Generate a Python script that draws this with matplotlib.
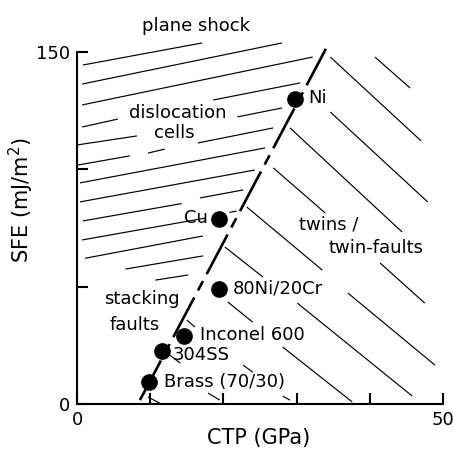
import matplotlib
matplotlib.use("Agg")
import matplotlib.pyplot as plt
from matplotlib.collections import LineCollection

# ---- data ----
materials = ["Ni", "Cu", "80Ni/20Cr", "Inconel 600", "304SS", "Brass (70/30)"]
ctp_gpa = [29.8, 19.4, 19.4, 14.6, 11.6, 9.8]
sfe_mj = [130, 79, 49, 29, 22.5, 9.2]

# dashed boundary between deformation regimes
boundary_ctp = [8.6, 34.0]
boundary_sfe = [1.7, 151.3]

region_names = ["plane shock", "dislocation", "cells", "twins /", "twin-faults",
                "stacking", "faults"]

x_ticks = [0, 10, 20, 30, 40, 50]
x_ticklabels = ["0", "", "", "", "", "50"]
y_ticks = [0, 50, 100, 150]
y_ticklabels = ["0", "", "", "150"]

# ---- decoration: hatch segments (x0, y0, x1, y1) in data units ----
hatch_left = [
    (0.8, 144.4, 17.1, 153.8),
    (0.7, 136.3, 28.0, 153.8),
    (0.7, 127.4, 32.2, 147.8),
    (0.7, 118.0, 5.6, 121.4),
    (18.6, 129.5, 30.5, 136.8),
    (0.1, 110.4, 8.2, 114.2),
    (21.9, 122.3, 28.0, 126.1),
    (0.1, 101.8, 7.2, 105.7),
    (9.7, 106.9, 12.0, 108.6),
    (16.5, 111.2, 26.8, 117.6),
    (0.4, 94.2, 25.7, 109.1),
    (0.4, 86.1, 24.3, 99.7),
    (0.8, 78.0, 14.3, 85.4),
    (16.8, 87.8, 22.7, 91.2),
    (0.7, 69.9, 17.5, 79.2),
    (20.8, 81.6, 21.8, 82.2),
    (1.1, 62.1, 17.2, 71.6),
    (6.6, 57.5, 17.2, 63.1),
    (10.7, 52.8, 15.2, 55.0),
]
hatch_right = [
    (40.7, 147.8, 45.5, 134.6),
    (34.6, 147.8, 47.0, 112.1),
    (34.6, 124.4, 47.9, 86.1),
    (29.1, 117.6, 44.4, 73.3),
    (26.8, 100.6, 33.9, 81.4),
    (41.4, 60.1, 47.5, 43.0),
    (23.2, 83.9, 33.5, 57.1),
    (37.0, 47.3, 48.9, 16.6),
    (20.2, 66.9, 25.4, 54.1),
    (30.1, 43.0, 45.8, 3.4),
    (20.6, 43.5, 24.0, 34.9),
    (28.1, 24.3, 37.6, 0.9),
    (15.0, 35.8, 16.1, 32.8),
    (22.7, 16.6, 24.0, 13.6),
    (28.1, 3.4, 29.1, 1.7),
    (12.3, 21.7, 14.1, 17.5),
    (17.9, 4.7, 19.5, 1.7),
    (9.7, 3.0, 11.3, 0.4),
]

plt.rcParams["font.family"] = ["DejaVu Sans"]

fig = plt.figure(figsize=(4.53, 4.51), dpi=100)
ax = fig.add_axes([0.170, 0.104, 0.808, 0.781])

segs = [[(a, b), (c, d)] for a, b, c, d in hatch_left + hatch_right]
ax.add_collection(LineCollection(segs, colors="black", linewidths=0.85,
                                 clip_on=False, zorder=1))

ax.plot(boundary_ctp, boundary_sfe, color="black", lw=1.9,
        linestyle=(0, (17, 3, 4, 3)), clip_on=False, zorder=2)

ax.plot(ctp_gpa, sfe_mj, "o", color="black", markersize=11, clip_on=False,
        zorder=3)

# point labels
lab_pos = [(31.6, 130.4, "left"), (17.9, 79.2, "right"), (21.3, 49.4, "left"),
           (16.8, 29.4, "left"), (13.1, 20.9, "left"), (11.9, 9.4, "left")]
for name, (lx, ly, ha) in zip(materials, lab_pos):
    ax.text(lx, ly, name, ha=ha, va="center", fontsize=13, zorder=4)

# region labels
reg_pos = [(16.3, 161.0), (13.7, 124.0), (13.3, 115.5), (34.4, 76.3),
           (40.8, 66.5), (8.9, 44.7), (7.9, 33.7)]
for name, (rx, ry) in zip(region_names, reg_pos):
    ax.text(rx, ry, name, ha="center", va="center", fontsize=13, zorder=4,
            clip_on=False)

ax.set_xlim(0, 50)
ax.set_ylim(0, 150)
for s in ["top", "right"]:
    ax.spines[s].set_visible(False)
for s in ["left", "bottom"]:
    ax.spines[s].set_linewidth(1.5)
ax.set_xticks(x_ticks)
ax.set_xticklabels(x_ticklabels)
ax.set_yticks(y_ticks)
ax.set_yticklabels(y_ticklabels)
ax.tick_params(direction="in", length=8, width=1.5, labelsize=13, pad=5)

ax.set_xlabel("CTP (GPa)", fontsize=15)
ax.set_ylabel("SFE (mJ/m$^2$)", fontsize=15)
ax.xaxis.set_label_coords(0.495, -0.068)
ax.yaxis.set_label_coords(-0.112, 0.58)

fig.savefig("out.png", dpi=100)
